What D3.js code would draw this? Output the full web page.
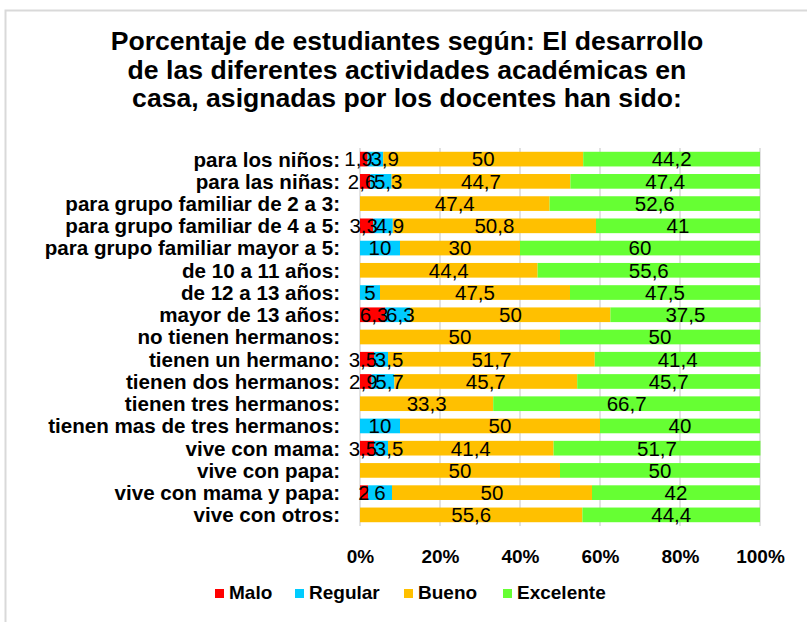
<!DOCTYPE html>
<html>
<head>
<meta charset="utf-8">
<script src="https://cdn.jsdelivr.net/npm/d3@7"></script>
<style>
  body { margin: 0; background: #fff; }
  text { font-family: "Liberation Sans", Arial, sans-serif; fill: #000; }
</style>
</head>
<body>
<div id="my_dataviz"></div>
<script>
// data
var categories = [
  "para los niños:", "para las niñas:", "para grupo familiar de 2 a 3:",
  "para grupo familiar de 4 a 5:", "para grupo familiar mayor a 5:",
  "de 10 a 11 años:", "de 12 a 13 años:", "mayor de 13 años:",
  "no tienen hermanos:", "tienen un hermano:", "tienen dos hermanos:",
  "tienen tres hermanos:", "tienen mas de tres hermanos:", "vive con mama:",
  "vive con papa:", "vive con mama y papa:", "vive con otros:"
];
var series = ["Malo", "Regular", "Bueno", "Excelente"];
var malo      = [1.9, 2.6, 0, 3.3, 0, 0, 0, 6.3, 0, 3.5, 2.9, 0, 0, 3.5, 0, 2, 0];
var regular   = [3.9, 5.3, 0, 4.9, 10, 0, 5, 6.3, 0, 3.5, 5.7, 0, 10, 3.5, 0, 6, 0];
var bueno     = [50, 44.7, 47.4, 50.8, 30, 44.4, 47.5, 50, 50, 51.7, 45.7, 33.3, 50, 41.4, 50, 50, 55.6];
var excelente = [44.2, 47.4, 52.6, 41, 60, 55.6, 47.5, 37.5, 50, 41.4, 45.7, 66.7, 40, 51.7, 50, 42, 44.4];
var ticks = [0, 20, 40, 60, 80, 100];
var titleLines = [
  "Porcentaje de estudiantes según: El desarrollo",
  "de las diferentes actividades académicas en",
  "casa, asignadas por los docentes han sido:"
];

var colors = ["#FF0000", "#00CCFF", "#FFC000", "#66FF33"];

var width = 807, height = 622;
var plot = {left: 360, right: 760, top: 148, bottom: 526};

var svg = d3.select("#my_dataviz").append("svg")
    .attr("width", width)
    .attr("height", height);

// outer frame
svg.append("rect")
    .attr("x", 5.5).attr("y", 10.5)
    .attr("width", 840).attr("height", 640)
    .style("fill", "none")
    .style("stroke", "#d9d9d9")
    .style("stroke-width", 2);

// title
svg.append("g").selectAll("text")
  .data(titleLines)
  .enter().append("text")
    .attr("x", 407)
    .attr("y", function(d, i) { return 50 + i * 28.5; })
    .attr("text-anchor", "middle")
    .style("font-size", "26.6px")
    .style("font-weight", "bold")
    .text(function(d) { return d; });

// scales
var x = d3.scaleLinear().domain([0, 100]).range([plot.left, plot.right]);
var y = d3.scaleBand().domain(categories).range([plot.top, plot.bottom]).paddingInner(0.34).paddingOuter(0.17);
var color = d3.scaleOrdinal().domain(series).range(colors);

// rows table for the stack
var rows = categories.map(function(c, i) {
  return {cat: c, Malo: malo[i], Regular: regular[i], Bueno: bueno[i], Excelente: excelente[i]};
});
var stacked = d3.stack().keys(series)(rows);

// grid lines
svg.append("g").selectAll("line")
  .data(ticks)
  .enter().append("line")
    .attr("x1", function(d) { return x(d); })
    .attr("x2", function(d) { return x(d); })
    .attr("y1", plot.top)
    .attr("y2", plot.bottom)
    .style("stroke", "#d9d9d9")
    .style("stroke-width", 1.5);

// bars
var layer = svg.append("g").selectAll("g")
  .data(stacked)
  .enter().append("g")
    .style("fill", function(d) { return color(d.key); });

layer.selectAll("rect")
  .data(function(d) { return d; })
  .enter().append("rect")
    .attr("x", function(d) { return x(d[0]); })
    .attr("y", function(d) { return y(d.data.cat); })
    .attr("width", function(d) { return x(d[1]) - x(d[0]); })
    .attr("height", y.bandwidth());

// value labels, centred in each segment
var fmt = function(v) { return String(v).replace(".", ","); };
var labelG = svg.append("g");
categories.forEach(function(c, i) {
  var segs = stacked
    .map(function(s) { return {key: s.key, d: s[i]}; })
    .filter(function(o) { return o.d[1] - o.d[0] > 0; });

  var texts = labelG.selectAll(null)
    .data(segs)
    .enter().append("text")
      .attr("x", function(o) { return x((o.d[0] + o.d[1]) / 2); })
      .attr("y", y(c) + y.bandwidth() / 2)
      .attr("dy", "0.36em")
      .attr("text-anchor", "middle")
      .style("font-size", "20.5px")
      .text(function(o) { return fmt(o.d.data[o.key]); });

  // push apart neighbouring labels that collide (small segments)
  var nodes = texts.nodes();
  for (var k = 1; k < nodes.length; k++) {
    var a = nodes[k - 1], b = nodes[k];
    var ax = +a.getAttribute("x"), bx = +b.getAttribute("x");
    var need = (a.getComputedTextLength() + b.getComputedTextLength()) / 2 * 0.92;
    if (bx - ax < need) {
      var mid = (ax + bx) / 2 + 2;
      a.setAttribute("x", mid - need / 2);
      b.setAttribute("x", mid + need / 2);
    }
  }
});

// category axis
svg.append("g")
    .attr("transform", "translate(" + (plot.left - 20) + ",0)")
    .call(d3.axisLeft(y).tickSize(0).tickPadding(0))
    .call(function(g) { g.select(".domain").remove(); })
    .selectAll("text")
      .style("font-family", "'Liberation Sans', Arial, sans-serif")
      .style("font-size", "20.6px")
      .style("font-weight", "bold")
      .attr("dy", "0.36em");

// percent axis
svg.append("g")
    .attr("transform", "translate(0," + plot.bottom + ")")
    .call(d3.axisBottom(x).tickValues(ticks).tickSize(0).tickPadding(24).tickFormat(function(d) { return d + "%"; }))
    .call(function(g) { g.select(".domain").remove(); })
    .selectAll("text")
      .style("font-family", "'Liberation Sans', Arial, sans-serif")
      .style("font-size", "19px")
      .style("font-weight", "bold");

// legend
var legendX = [215, 295, 404, 503];
var legend = svg.append("g").selectAll("g")
  .data(series)
  .enter().append("g")
    .attr("transform", function(d, i) { return "translate(" + legendX[i] + ",589)"; });
legend.append("rect")
    .attr("width", 9).attr("height", 9)
    .style("fill", function(d) { return color(d); });
legend.append("text")
    .attr("x", 14).attr("y", 10)
    .style("font-size", "19px")
    .style("font-weight", "bold")
    .text(function(d) { return d; });
</script>
</body>
</html>
